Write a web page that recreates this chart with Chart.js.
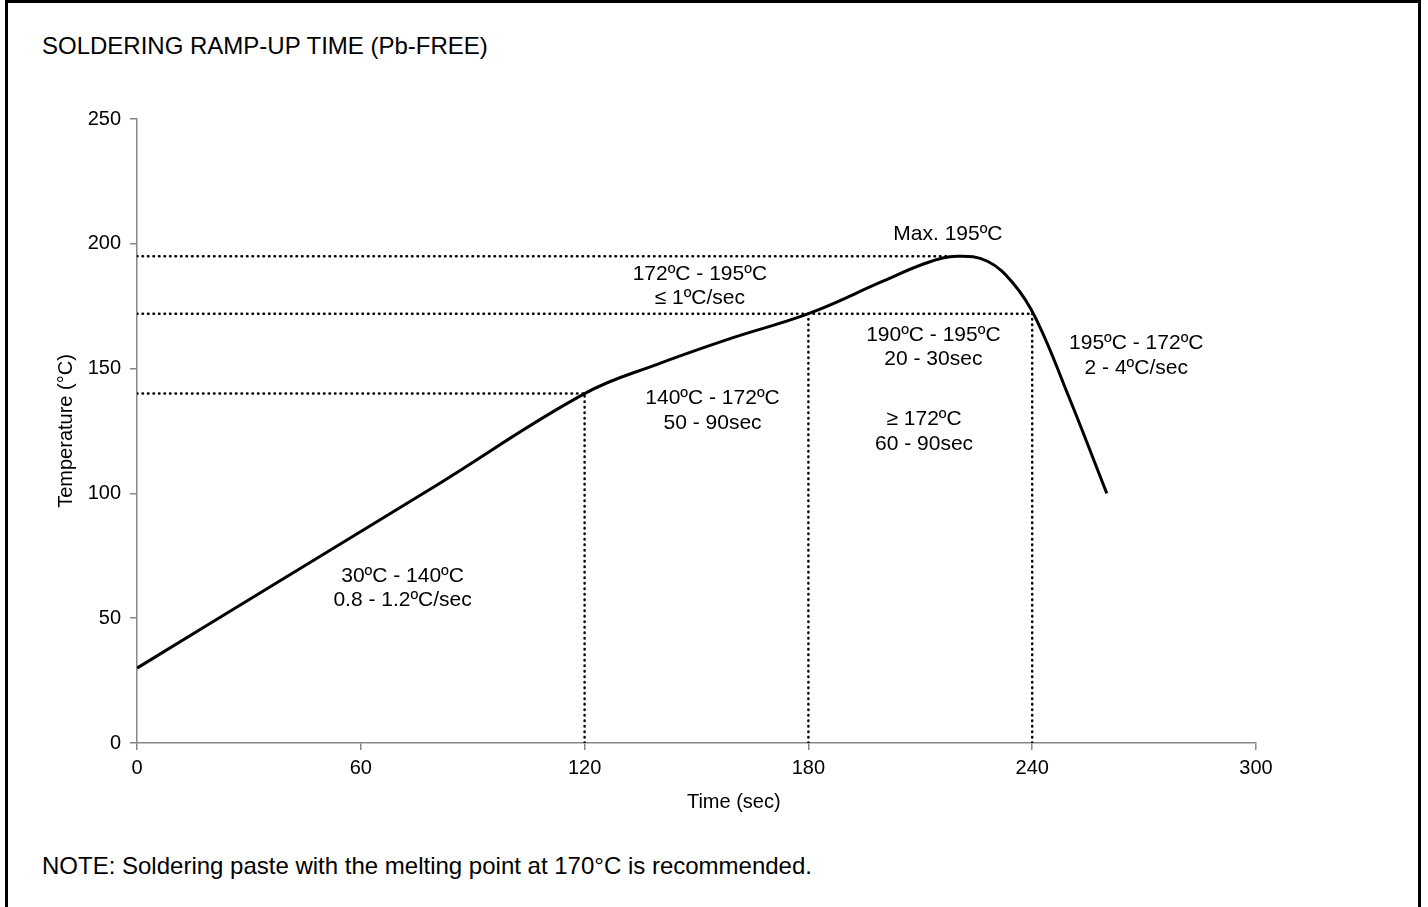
<!DOCTYPE html>
<html>
<head>
<meta charset="utf-8">
<script src="https://cdn.jsdelivr.net/npm/chart.js@4.4.1/dist/chart.umd.min.js"></script>
<style>
    html, body { margin: 0; padding: 0; background: #fff; }
    body { width: 1428px; height: 907px; position: relative; overflow: hidden; font-family: "Liberation Sans", Arial, sans-serif; }
    #frame { position: absolute; left: 5px; top: 0; width: 1410px; height: 930px; border: 3px solid #000; }
    #title { position: absolute; left: 42px; top: 32px; font-size: 24px; line-height: 28px; color: #000; }
    #note { position: absolute; left: 42px; top: 852px; font-size: 24px; line-height: 28px; color: #000; }
    #wrap { position: absolute; left: 0; top: 0; width: 1428px; height: 907px; }
</style>
</head>
<body>
<div id="frame"></div>
<div id="title">SOLDERING RAMP-UP TIME (Pb-FREE)</div>
<div id="note">NOTE: Soldering paste with the melting point at 170°C is recommended.</div>
<div id="wrap"><canvas id="chart" width="1428" height="907"></canvas></div>
<script>
// Perfil de soldadura: tiempo (s) y temperatura (°C)
const profileTime = [0, 40, 80, 120, 140, 160, 180, 200, 212, 220, 228, 235, 241, 250, 260];
const profileTemp = [30, 66.5, 103, 140, 152, 162.5, 172, 185, 192.5, 195, 193, 184, 170, 138, 100];

// Líneas punteadas horizontales (temperatura y hasta qué tiempo llegan)
const refTemps = [195, 172, 140];
const refTempEnds = [218, 240, 120];
// Líneas punteadas verticales (tiempo y hasta qué temperatura suben)
const refTimes = [120, 180, 240];
const refTimeTops = [140, 172, 172];

// Etiquetas de zonas (texto, tiempo, temperatura)
const zoneLabels = [
    ['Max. 195ºC', 217.4, 203.9],
    ['172ºC - 195ºC', 150.9, 187.9],
    ['≤ 1ºC/sec', 150.9, 178.3],
    ['190ºC - 195ºC', 213.5, 163.5],
    ['20 - 30sec', 213.5, 153.6],
    ['195ºC - 172ºC', 267.9, 160.3],
    ['2 - 4ºC/sec', 267.9, 150.2],
    ['140ºC - 172ºC', 154.3, 138.2],
    ['50 - 90sec', 154.3, 128.2],
    ['≥ 172ºC', 211, 129.6],
    ['60 - 90sec', 211, 119.8],
    ['30ºC - 140ºC', 71.2, 66.9],
    ['0.8 - 1.2ºC/sec', 71.2, 57.3]
];

const xTicks = [0, 60, 120, 180, 240, 300];
const yTicks = [0, 50, 100, 150, 200, 250];
const xTitle = 'Time (sec)';
const xTitleAt = 160; // el título del eje X está algo desplazado a la derecha

const fontFamily = '"Liberation Sans", Arial, sans-serif';
const axisGray = '#888888';

const datasets = [];
datasets.push({
    label: 'Perfil',
    data: profileTime.map((t, i) => ({ x: t, y: profileTemp[i] })),
    borderColor: '#000',
    borderWidth: 3,
    pointRadius: 0,
    tension: 0.4,
    order: 0
});
const dotted = {
    borderColor: '#000',
    borderWidth: 2.5,
    borderDash: [0.5, 5],
    borderCapStyle: 'round',
    pointRadius: 0,
    order: 1
};
refTemps.forEach(function (temp, i) {
    datasets.push(Object.assign({ data: [{ x: 0, y: temp }, { x: refTempEnds[i], y: temp }] }, dotted));
});
refTimes.forEach(function (t, i) {
    datasets.push(Object.assign({ data: [{ x: t, y: 0 }, { x: t, y: refTimeTops[i] }] }, dotted));
});

// Plugin para escribir las etiquetas de las zonas y el título del eje X
const zoneLabelPlugin = {
    id: 'zoneLabels',
    afterDatasetsDraw(chart) {
        const ctx = chart.ctx;
        const xs = chart.scales.x, ys = chart.scales.y;
        ctx.save();
        ctx.font = '21px ' + fontFamily;
        ctx.fillStyle = '#000';
        ctx.textAlign = 'center';
        ctx.textBaseline = 'middle';
        zoneLabels.forEach(function (l) {
            ctx.fillText(l[0], xs.getPixelForValue(l[1]), ys.getPixelForValue(l[2]));
        });
        ctx.font = '20px ' + fontFamily;
        ctx.fillText(xTitle, xs.getPixelForValue(xTitleAt), xs.bottom - 11);
        ctx.restore();
    }
};

const ctx = document.getElementById('chart').getContext('2d');
new Chart(ctx, {
    type: 'scatter',
    data: { datasets: datasets },
    plugins: [zoneLabelPlugin],
    options: {
        responsive: false,
        animation: false,
        showLine: true,
        layout: { padding: { left: 0, top: 119, right: 172, bottom: 94 } },
        plugins: { legend: { display: false }, tooltip: { enabled: false } },
        scales: {
            x: {
                type: 'linear',
                min: 0,
                max: 300,
                afterBuildTicks: function (scale) { scale.ticks = xTicks.map(v => ({ value: v })); },
                afterFit: function (scale) { scale.height = 70; },
                border: { color: axisGray, width: 1.5 },
                grid: { drawOnChartArea: false, color: axisGray, tickLength: 7, lineWidth: 1.5 },
                ticks: { color: '#000', padding: 6, font: { family: fontFamily, size: 20 } }
            },
            y: {
                type: 'linear',
                min: 0,
                max: 250,
                afterBuildTicks: function (scale) { scale.ticks = yTicks.map(v => ({ value: v })); },
                afterFit: function (scale) { scale.width = 137; },
                border: { color: axisGray, width: 1.5 },
                grid: { drawOnChartArea: false, color: axisGray, tickLength: 7, lineWidth: 1.5 },
                ticks: { color: '#000', padding: 9, font: { family: fontFamily, size: 20 } },
                title: { display: true, text: 'Temperature (°C)', color: '#000', padding: { top: 54, bottom: 0 }, font: { family: fontFamily, size: 20 } }
            }
        }
    }
});
</script>
</body>
</html>
